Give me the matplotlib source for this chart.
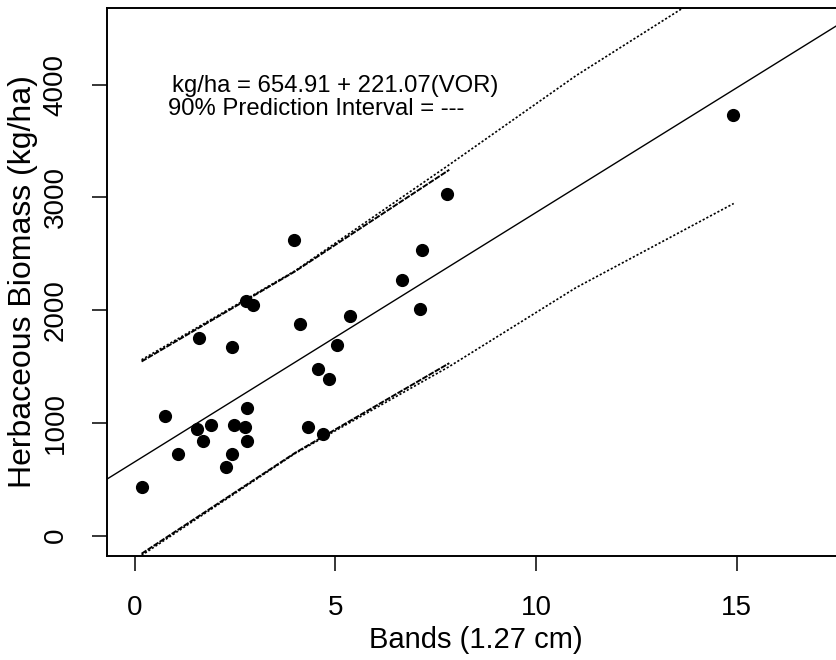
import matplotlib
matplotlib.use("Agg")
from matplotlib import pyplot as plt

# data
bands = [0.18, 0.75, 1.09, 1.56, 1.70, 1.89, 2.28, 2.43, 2.47, 2.75,
         2.80, 2.80, 4.31, 4.68, 1.60, 2.43, 2.78, 2.94, 4.13, 4.58,
         4.85, 5.04, 5.37, 7.11, 3.96, 7.16, 6.65, 7.79, 14.91]
biomass = [429, 1065, 725, 949, 837, 985, 609, 725, 985, 964,
           1133, 837, 967, 902, 1754, 1671, 2079, 2050, 1881, 1479,
           1393, 1689, 1952, 2014, 2620, 2538, 2272, 3032, 3729]

intercept = 654.91
slope = 221.07

# prediction interval lines (two versions)
pi_x_a = [0.17, 4.0, 7.84]
pi_up_a = [1545, 2345, 3245]
pi_lo_a = [-160, 735, 1530]

pi_x_b = [0.17, 4.0, 7.84, 11.0, 14.93]
pi_up_b = [1560, 2350, 3290, 4080, 4965]
pi_lo_b = [-175, 730, 1500, 2200, 2946]

x_ticks = [0, 5, 10, 15]
y_ticks = [0, 1000, 2000, 3000, 4000]

eq_text = "kg/ha = 654.91 + 221.07(VOR)"
pi_text = "90% Prediction Interval = ---"


def main():
    plt.rcParams["font.family"] = ["Liberation Sans", "DejaVu Sans"]
    fig = plt.figure(figsize=(8.37, 6.6), dpi=100)
    ax = fig.add_axes([0.1284, 0.1576, 0.88, 0.8303])

    ax.scatter(bands, biomass, s=72, color="black", zorder=3)
    ax.axline((0, intercept), slope=slope, color="black", lw=1.0)

    ax.plot(pi_x_a, pi_up_a, color="black", lw=1.4, ls=(0, (3, 0.7)))
    ax.plot(pi_x_a, pi_lo_a, color="black", lw=1.4, ls=(0, (3, 0.7)))
    ax.plot(pi_x_b, pi_up_b, color="black", lw=1.2, ls=(0, (1.3, 1.2)))
    ax.plot(pi_x_b, pi_lo_b, color="black", lw=1.2, ls=(0, (1.3, 1.2)))

    ax.text(0.92, 3984, eq_text, fontsize=17.2, va="center", ha="left")
    ax.text(0.82, 3780, pi_text, fontsize=17.2, va="center", ha="left")

    ax.set_xlim(-0.68, 17.68)
    ax.set_ylim(-180, 4680)
    ax.set_xticks(x_ticks)
    ax.set_yticks(y_ticks)
    ax.tick_params(axis="both", length=11, width=1.1, labelsize=20,
                   pad=17, direction="out")
    for lab in ax.get_yticklabels():
        lab.set_rotation(90)
        lab.set_va("center")
    for sp in ax.spines.values():
        sp.set_linewidth(1.4)

    ax.set_xlabel("Bands (1.27 cm)", fontsize=21, labelpad=4)
    ax.set_ylabel("Herbaceous Biomass (kg/ha)", fontsize=23, labelpad=3)

    fig.savefig("out.png", dpi=100)


if __name__ == "__main__":
    main()
